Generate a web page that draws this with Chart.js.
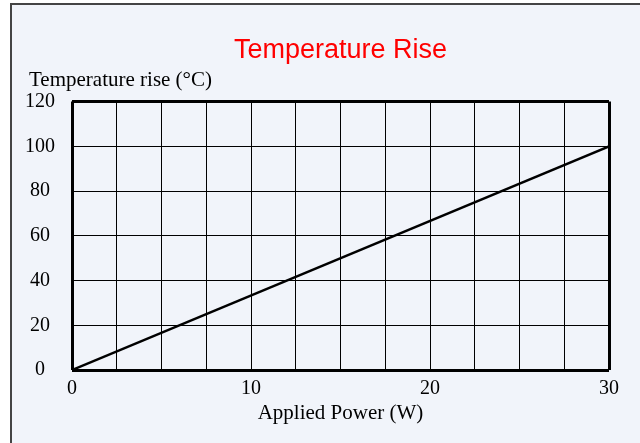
<!DOCTYPE html>
<html>
<head>
<meta charset="utf-8">
<script src="https://cdn.jsdelivr.net/npm/chart.js@4/dist/chart.umd.min.js"></script>
<style>
  html, body { margin: 0; padding: 0; background: #ffffff; overflow: hidden; }
  #frame {
    position: absolute; left: 10px; top: 3px; width: 700px; height: 520px;
    border: 2px solid #444; background: #f1f4fa;
  }
  #myChart { position: absolute; left: 0; top: 0; }
</style>
</head>
<body>
<div id="frame"></div>
<canvas id="myChart" width="640" height="443"></canvas>
<script>
// Data
const powerW = [0, 30];
const tempRise = [0, 100];
const xTickLabels = [0, 10, 20, 30];
const yTickLabels = [0, 20, 40, 60, 80, 100, 120];

const points = powerW.map((p, i) => ({ x: p, y: tempRise[i] }));

const serif = 'Liberation Serif, "Times New Roman", serif';

const data = {
    datasets: [{
        label: 'Temperature rise',
        data: points,
        borderColor: '#000',
        borderWidth: 2.5,
        pointRadius: 0,
        fill: false,
    }],
};

const config = {
    type: 'line',
    data: data,
    options: {
        responsive: false,
        animation: false,
        layout: { padding: { top: 0, left: 29, right: 31, bottom: 0 } },
        plugins: {
            legend: { display: false },
            tooltip: { enabled: false },
            title: {
                display: true,
                text: 'Temperature Rise',
                color: '#ff0000',
                fullSize: false,
                font: { family: 'Liberation Sans, Arial, sans-serif', size: 27, weight: 'normal', lineHeight: 1.2 },
                padding: { top: 34, bottom: 1 },
            },
            subtitle: {
                display: true,
                text: 'Temperature rise (°C)',
                align: 'start',
                color: '#000',
                font: { family: serif, size: 21, lineHeight: 1.2 },
                padding: { top: 0, bottom: 9 },
            },
        },
        scales: {
            x: {
                type: 'linear',
                min: 0,
                max: 30,
                border: { display: false },
                afterFit: (scale) => { scale.height = 73; },
                grid: {
                    color: '#000',
                    drawTicks: false,
                    lineWidth: (ctx) => (ctx.tick && (ctx.tick.value === 0 || ctx.tick.value === 30)) ? 3 : 1,
                },
                ticks: {
                    stepSize: 2.5,
                    autoSkip: false,
                    maxRotation: 0,
                    padding: 7,
                    color: '#000',
                    font: { family: serif, size: 20, lineHeight: 1.2 },
                    callback: (v) => xTickLabels.includes(v) ? String(v) : '',
                },
                title: {
                    display: true,
                    text: 'Applied Power (W)',
                    color: '#000',
                    font: { family: serif, size: 21, lineHeight: 1.2 },
                    padding: { top: 0, bottom: 17 },
                },
            },
            y: {
                min: 0,
                max: 120,
                border: { display: false },
                afterFit: (scale) => { scale.width = 43; },
                grid: {
                    color: '#000',
                    drawTicks: false,
                    lineWidth: (ctx) => (ctx.tick && (ctx.tick.value === 0 || ctx.tick.value === 120)) ? 3 : 1,
                },
                ticks: {
                    stepSize: 20,
                    // mirrored with a negative padding so the labels sit left of the axis, unclipped
                    mirror: true,
                    crossAlign: 'center',
                    padding: -47,
                    color: '#000',
                    font: { family: serif, size: 20, lineHeight: 1.2 },
                    callback: (v) => yTickLabels.includes(v) ? String(v) : '',
                },
            },
        },
    },
};

const ctx = document.getElementById('myChart').getContext('2d');
const myChart = new Chart(ctx, config);
</script>
</body>
</html>
